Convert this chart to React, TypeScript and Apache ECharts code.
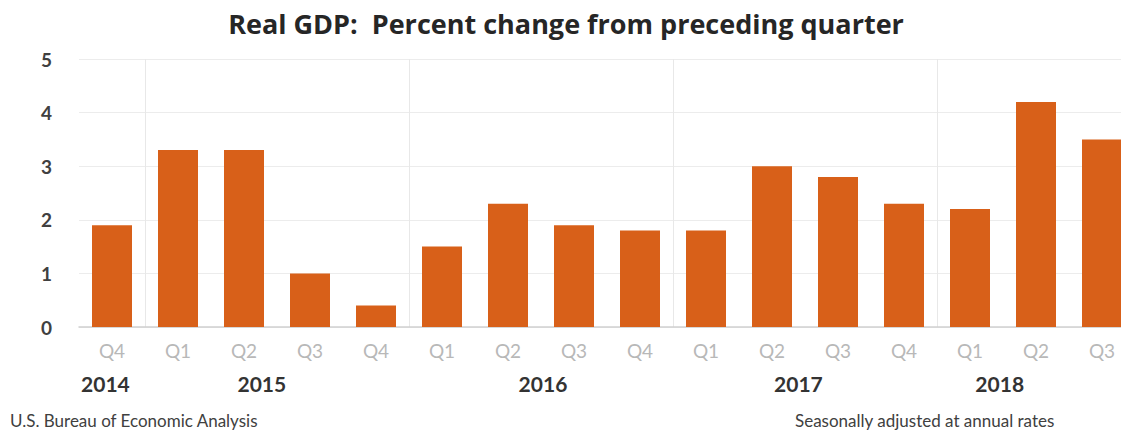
import React, { useEffect, useRef } from "react";
import * as echarts from "echarts";

const quarters = ["Q4", "Q1", "Q2", "Q3", "Q4", "Q1", "Q2", "Q3", "Q4", "Q1", "Q2", "Q3", "Q4", "Q1", "Q2", "Q3"];
const gdpChange = [1.9, 3.3, 3.3, 1.0, 0.4, 1.5, 2.3, 1.9, 1.8, 1.8, 3.0, 2.8, 2.3, 2.2, 4.2, 3.5];
const years = ["2014", "2015", "2016", "2017", "2018"];
const yearPositions = [-0.1, 2.27, 6.53, 10.4, 13.45];
const yearStartIndices = [1, 5, 9, 13];
const yTicks = [0, 1, 2, 3, 4, 5];

const FONT = "Lato, 'Open Sans', sans-serif";

export default function App() {
  const ref = useRef<HTMLDivElement>(null);
  useEffect(() => {
    if (!ref.current) return;
    const chart = echarts.init(ref.current, null, { renderer: "svg" });
    chart.setOption({
      animation: false,
      backgroundColor: "#ffffff",
      title: {
        text: "Real GDP:  Percent change from preceding quarter",
        left: 561,
        textAlign: "center",
        top: 5,
        textStyle: { fontFamily: "'Open Sans', sans-serif", fontSize: 27, fontWeight: "bold", color: "#262626" },
      },
      grid: { left: 79, right: 5, top: 59, bottom: 106, containLabel: false },
      xAxis: [
        {
          type: "category",
          data: quarters,
          position: "bottom",
          axisLine: { show: true, lineStyle: { color: "#d0d0d0", width: 1.5 } },
          axisTick: { show: false },
          axisLabel: {
            interval: 0,
            margin: 14,
            fontFamily: FONT,
            fontSize: 19,
            color: "#b8b8b8",
          },
          splitLine: {
            show: true,
            interval: (index: number) => yearStartIndices.indexOf(index) >= 0,
            lineStyle: { color: "#e8e8e8", width: 1 },
          },
        },
        {
          type: "value",
          min: -0.5,
          max: 15.5,
          position: "bottom",
          axisLine: { show: false },
          axisTick: { show: false },
          splitLine: { show: false },
          axisLabel: {
            customValues: yearPositions,
            margin: 46,
            fontFamily: FONT,
            fontSize: 21,
            fontWeight: "bold",
            color: "#333333",
            formatter: (v: number) => {
              const i = yearPositions.findIndex((p) => Math.abs(p - v) < 1e-6);
              return i >= 0 ? years[i] : "";
            },
          },
        },
      ],
      yAxis: {
        type: "value",
        min: 0,
        max: 5,
        interval: 1,
        axisLine: { show: false },
        axisTick: { show: false },
        axisLabel: {
          margin: 27,
          fontFamily: FONT,
          fontSize: 19,
          fontWeight: "bold",
          color: "#404040",
          formatter: (v: number) => (yTicks.indexOf(v) >= 0 ? String(v) : ""),
        },
        splitLine: { show: true, lineStyle: { color: "#ececec", width: 1 } },
      },
      series: [
        {
          type: "bar",
          xAxisIndex: 0,
          data: gdpChange,
          barWidth: 40,
          itemStyle: { color: "#d86019" },
        },
      ],
      graphic: [
        {
          type: "text",
          left: 10,
          top: 412,
          style: { text: "U.S. Bureau of Economic Analysis", fontFamily: FONT, fontSize: 17, fill: "#404040" },
        },
        {
          type: "text",
          left: 795,
          top: 412,
          style: { text: "Seasonally adjusted at annual rates", fontFamily: FONT, fontSize: 17, fill: "#404040" },
        },
      ],
    });
    return () => chart.dispose();
  }, []);
  return (
    <div style={{ position: "fixed", left: 0, top: 0, width: 1121, height: 433, overflow: "hidden", background: "#fff" }}>
      <div ref={ref} style={{ width: 1140, height: 433 }} />
    </div>
  );
}
